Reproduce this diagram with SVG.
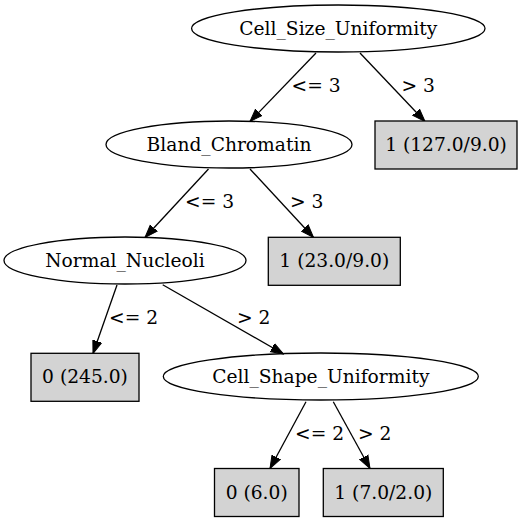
<svg xmlns="http://www.w3.org/2000/svg" width="525" height="523" viewBox="0 0 525 523">
<style>
text { font-family: "DejaVu Serif", "Liberation Serif", serif; font-size: 18.67px; fill: #000; }
.n text { text-anchor: middle; }
ellipse { fill: none; stroke: #000; stroke-width: 1.3; }
rect { fill: #d3d3d3; stroke: #000; stroke-width: 1.3; }
.e line { stroke: #000; stroke-width: 1.3; marker-end: url(#ah); }
</style>
<defs>
<marker id="ah" markerUnits="userSpaceOnUse" markerWidth="14" markerHeight="12" viewBox="0 -5 14 10" refX="13" refY="0" orient="auto">
<path d="M0,-4.7 L13,0 L0,4.7 z" fill="#000" stroke="#000" stroke-width="1"/>
</marker>
</defs>
<rect x="0" y="0" width="525" height="523" style="fill:#fff;stroke:none"/>
<g id="edges" class="e">
<line x1="316" y1="53" x2="250" y2="121.5"/>
<line x1="360" y1="53" x2="425" y2="121.5"/>
<line x1="208.5" y1="169" x2="145" y2="237.5"/>
<line x1="250" y1="169" x2="313.5" y2="237.5"/>
<line x1="117" y1="285" x2="93" y2="353.5"/>
<line x1="162.7" y1="284.7" x2="283.5" y2="354"/>
<line x1="306" y1="401.7" x2="270" y2="468.5"/>
<line x1="333.3" y1="401.7" x2="370" y2="468.5"/>
<text x="291.5" y="91.7">&lt;= 3</text>
<text x="401.5" y="91.7">&gt; 3</text>
<text x="185" y="207.7">&lt;= 3</text>
<text x="290" y="207.7">&gt; 3</text>
<text x="109" y="324">&lt;= 2</text>
<text x="237" y="324">&gt; 2</text>
<text x="295" y="440">&lt;= 2</text>
<text x="358" y="440">&gt; 2</text>
</g>
<g id="n0" class="n"><ellipse cx="338.3" cy="28.5" rx="146.7" ry="23.5"/><text x="338.3" y="35">Cell_Size_Uniformity</text></g>
<g id="n1" class="n"><ellipse cx="229" cy="144.5" rx="123" ry="23.5"/><text x="229" y="151">Bland_Chromatin</text></g>
<g id="n2" class="n"><rect x="375" y="121" width="142" height="48"/><text x="446" y="151">1 (127.0/9.0)</text></g>
<g id="n3" class="n"><ellipse cx="125" cy="260.5" rx="121" ry="23.5"/><text x="125" y="267">Normal_Nucleoli</text></g>
<g id="n4" class="n"><rect x="268.3" y="237.3" width="132" height="48"/><text x="334.3" y="267">1 (23.0/9.0)</text></g>
<g id="n5" class="n"><rect x="31" y="353.3" width="108" height="48"/><text x="85" y="383">0 (245.0)</text></g>
<g id="n6" class="n"><ellipse cx="320.8" cy="376.5" rx="157.5" ry="23.5"/><text x="320.8" y="383">Cell_Shape_Uniformity</text></g>
<g id="n7" class="n"><rect x="214.5" y="468.5" width="84.5" height="48"/><text x="256.7" y="499">0 (6.0)</text></g>
<g id="n8" class="n"><rect x="323.3" y="468.5" width="120" height="48"/><text x="383.3" y="499">1 (7.0/2.0)</text></g>
</svg>
